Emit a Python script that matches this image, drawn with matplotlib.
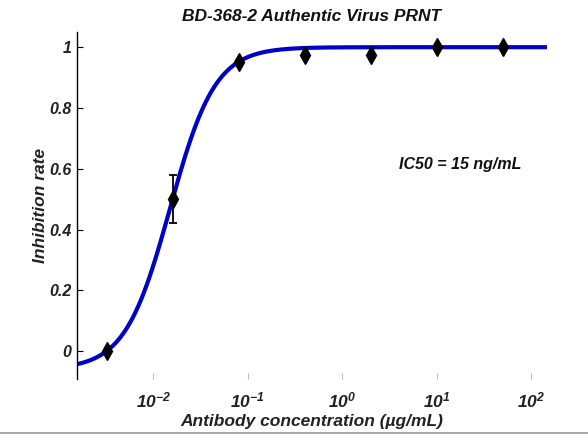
import numpy as np
import matplotlib
matplotlib.use("Agg")
import matplotlib.pyplot as plt
from matplotlib.lines import Line2D

plt.rcParams['font.family'] = ['Liberation Sans', 'DejaVu Sans']
plt.rcParams['mathtext.fontset'] = 'custom'
plt.rcParams['mathtext.rm'] = 'Liberation Sans:italic:bold'
plt.rcParams['mathtext.it'] = 'Liberation Sans:italic:bold'
plt.rcParams['mathtext.bf'] = 'Liberation Sans:italic:bold'

# Data (µg/mL, inhibition rate)
concentrations = [0.0032, 0.016, 0.08, 0.4, 2, 10, 50]
inhibition = [0.0, 0.50, 0.95, 0.975, 0.975, 1.0, 1.0]
errors = [0.0, 0.08, 0.0, 0.0, 0.0, 0.0, 0.0]

# 4-parameter logistic fit parameters
fit_bottom = -0.06
fit_top = 1.0
fit_ic50 = 0.015
fit_hill = 1.82

xtick_values = [1e-2, 1e-1, 1e0, 1e1, 1e2]
xtick_labels = [r'$10^{-2}$', r'$10^{-1}$', r'$10^{0}$', r'$10^{1}$', r'$10^{2}$']
ytick_values = [0, 0.2, 0.4, 0.6, 0.8, 1]
ytick_labels = ['0', '0.2', '0.4', '0.6', '0.8', '1']

xmin, xmax = 10 ** -2.81, 10 ** 2.17

fig = plt.figure(figsize=(5.88, 4.34), dpi=100)
ax = fig.add_axes([77 / 588, 55 / 434, 470 / 588, 347 / 434])

xs = np.logspace(np.log10(xmin), np.log10(xmax), 400)
ys = fit_bottom + (fit_top - fit_bottom) / (1 + (fit_ic50 / xs) ** fit_hill)
ax.plot(xs, ys, color='#0000c8', lw=3.0, solid_capstyle='butt', zorder=2)

ax.errorbar(concentrations, inhibition, yerr=errors, fmt='d', color='black',
            markersize=9, capsize=3, elinewidth=1.3, capthick=1.3, zorder=3)

ax.set_xscale('log')
ax.set_xlim(xmin, xmax)
ax.set_ylim(-0.092, 1.05)
ax.minorticks_off()
ax.set_xticks(xtick_values)
ax.set_xticklabels(xtick_labels)
ax.set_yticks(ytick_values)
ax.set_yticklabels(ytick_labels)

for s in ['top', 'right', 'bottom']:
    ax.spines[s].set_visible(False)
ax.spines['left'].set_linewidth(1.0)

ax.tick_params(axis='y', direction='in', length=4, width=0.8, pad=4,
               labelsize=11.5)
ax.tick_params(axis='x', direction='in', length=4, width=0.8, color='#bbbbbb',
               pad=8, labelsize=12.5)
for lbl in ax.get_yticklabels():
    lbl.set_fontweight('bold')
    lbl.set_fontstyle('italic')
    lbl.set_color('#222222')
for lbl in ax.get_xticklabels():
    lbl.set_color('#222222')

ax.set_title('BD-368-2 Authentic Virus PRNT', fontsize=12.5, fontweight='bold',
             fontstyle='italic', pad=8, color='#111111')
ax.set_xlabel('Antibody concentration (µg/mL)', fontsize=12.5, fontweight='bold',
              fontstyle='italic', labelpad=3, color='#222222')
ax.set_ylabel('Inhibition rate', fontsize=12.5, fontweight='bold',
              fontstyle='italic', color='#222222')
ax.yaxis.set_label_coords(-29 / 470, 0.5)

ax.text(0.685, 0.605, 'IC50 = 15 ng/mL', transform=ax.transAxes, fontsize=11.5,
        fontweight='bold', fontstyle='italic', color='#111111')

fig.add_artist(Line2D([0, 1], [1.5 / 434, 1.5 / 434], transform=fig.transFigure,
                      color='#999999', lw=1.2))

fig.savefig('out.png', dpi=100)
